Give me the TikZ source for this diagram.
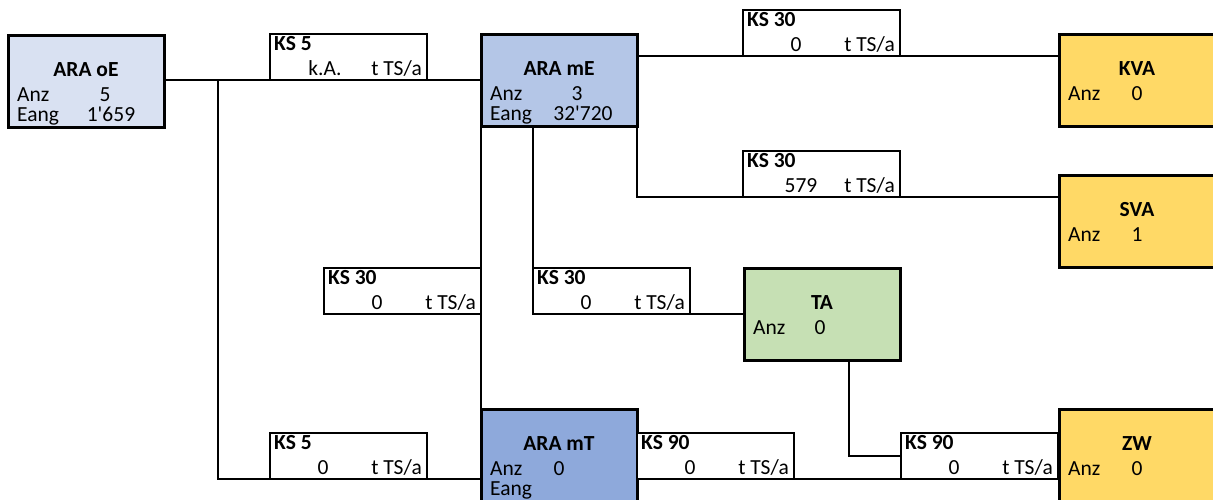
\documentclass[tikz,border=0pt]{standalone}
\usepackage{fontspec}
\setmainfont{Carlito}
\definecolor{oEfill}{HTML}{D9E1F2}
\definecolor{mEfill}{HTML}{B4C6E7}
\definecolor{mTfill}{HTML}{8EA9DB}
\definecolor{tafill}{HTML}{C6E0B4}
\definecolor{vafill}{HTML}{FFD966}

\begin{document}
\fontsize{21.5}{24}\selectfont
\begin{tikzpicture}[
        x=1pt, y=-1pt,
        anlage/.style={rectangle, draw, line width=3pt, minimum width=156pt, minimum height=92pt, inner sep=0pt, outer sep=0pt, anchor=north west},
        ksbox/.style={rectangle, draw, fill=white, line width=2pt, minimum width=157pt, minimum height=46pt, inner sep=0pt, outer sep=0pt, anchor=north west},
        ttl/.style={anchor=base, font=\bfseries, inner sep=0pt},
        lbl/.style={anchor=base west, inner sep=0pt},
        val/.style={anchor=base, inner sep=0pt},
        kst/.style={anchor=base west, font=\bfseries, inner sep=0pt},
        ksu/.style={anchor=base east, inner sep=0pt},
        link/.style={line width=2pt}
        ]
        \useasboundingbox (0,0) rectangle (1213,499);
        \clip (0,0) rectangle (1213,499);
        % Anlagen
        \node[anlage, fill=oEfill] (oE)  at (8,35)    {};
        \node[anlage, fill=mEfill] (mE)  at (481,34)  {};
        \node[anlage, fill=mTfill] (mT)  at (481,409) {};
        \node[anlage, fill=tafill] (TA)  at (744,268) {};
        \node[anlage, fill=vafill] (KVA) at (1059,34) {};
        \node[anlage, fill=vafill] (SVA) at (1059,175) {};
        \node[anlage, fill=vafill] (ZW)  at (1059,409) {};
        \node[ttl] at ([yshift=-41pt]oE.north) {ARA oE};
        \node[lbl] at ([xshift=9pt,yshift=-66pt]oE.north west) {Anz};
        \node[val] at ([xshift=19pt,yshift=-66pt]oE.north) {5};
        \node[lbl] at ([xshift=9pt,yshift=-86pt]oE.north west) {Eang};
        \node[val] at ([xshift=25pt,yshift=-86pt]oE.north) {1\textquotesingle659};
        \node[ttl] at ([yshift=-41pt]mE.north) {ARA mE};
        \node[lbl] at ([xshift=9pt,yshift=-66pt]mE.north west) {Anz};
        \node[val] at ([xshift=18pt,yshift=-66pt]mE.north) {3};
        \node[lbl] at ([xshift=9pt,yshift=-86pt]mE.north west) {Eang};
        \node[val] at ([xshift=24pt,yshift=-86pt]mE.north) {32\textquotesingle720};
        \node[ttl] at ([yshift=-41pt]mT.north) {ARA mT};
        \node[lbl] at ([xshift=9pt,yshift=-66pt]mT.north west) {Anz};
        \node[val] at ([yshift=-66pt]mT.north) {0};
        \node[lbl] at ([xshift=9pt,yshift=-86pt]mT.north west) {Eang};
        \node[ttl] at ([yshift=-41pt]TA.north) {TA};
        \node[lbl] at ([xshift=9pt,yshift=-66pt]TA.north west) {Anz};
        \node[val] at ([xshift=-2pt,yshift=-66pt]TA.north) {0};
        \node[ttl] at ([yshift=-41pt]KVA.north) {KVA};
        \node[lbl] at ([xshift=9pt,yshift=-66pt]KVA.north west) {Anz};
        \node[val] at ([yshift=-66pt]KVA.north) {0};
        \node[ttl] at ([yshift=-41pt]SVA.north) {SVA};
        \node[lbl] at ([xshift=9pt,yshift=-66pt]SVA.north west) {Anz};
        \node[val] at ([yshift=-66pt]SVA.north) {1};
        \node[ttl] at ([yshift=-41pt]ZW.north) {ZW};
        \node[lbl] at ([xshift=9pt,yshift=-66pt]ZW.north west) {Anz};
        \node[val] at ([yshift=-66pt]ZW.north) {0};
        % Klärschlamm-Mengen
        \node[ksbox] (ks1) at (270,34)  {};
        \node[ksbox] (ks2) at (743,10)  {};
        \node[ksbox] (ks3) at (743,151) {};
        \node[ksbox] (ks4) at (324,268) {};
        \node[ksbox] (ks5) at (533,268) {};
        \node[ksbox] (ks6) at (270,433) {};
        \node[ksbox] (ks7) at (637,433) {};
        \node[ksbox] (ks8) at (901,433) {};
        \node[kst] at ([xshift=4pt,yshift=-16pt]ks1.north west) {KS 5};
        \node[val] at ([xshift=55pt,yshift=-41pt]ks1.north west) {k.A.};
        \node[ksu] at ([xshift=-5pt,yshift=-41pt]ks1.north east) {t TS/a};
        \node[kst] at ([xshift=4pt,yshift=-16pt]ks2.north west) {KS 30};
        \node[val] at ([xshift=53pt,yshift=-41pt]ks2.north west) {0};
        \node[ksu] at ([xshift=-5pt,yshift=-41pt]ks2.north east) {t TS/a};
        \node[kst] at ([xshift=4pt,yshift=-16pt]ks3.north west) {KS 30};
        \node[val] at ([xshift=58pt,yshift=-41pt]ks3.north west) {579};
        \node[ksu] at ([xshift=-5pt,yshift=-41pt]ks3.north east) {t TS/a};
        \node[kst] at ([xshift=4pt,yshift=-16pt]ks4.north west) {KS 30};
        \node[val] at ([xshift=53pt,yshift=-41pt]ks4.north west) {0};
        \node[ksu] at ([xshift=-5pt,yshift=-41pt]ks4.north east) {t TS/a};
        \node[kst] at ([xshift=4pt,yshift=-16pt]ks5.north west) {KS 30};
        \node[val] at ([xshift=53pt,yshift=-41pt]ks5.north west) {0};
        \node[ksu] at ([xshift=-5pt,yshift=-41pt]ks5.north east) {t TS/a};
        \node[kst] at ([xshift=4pt,yshift=-16pt]ks6.north west) {KS 5};
        \node[val] at ([xshift=53pt,yshift=-41pt]ks6.north west) {0};
        \node[ksu] at ([xshift=-5pt,yshift=-41pt]ks6.north east) {t TS/a};
        \node[kst] at ([xshift=4pt,yshift=-16pt]ks7.north west) {KS 90};
        \node[val] at ([xshift=53pt,yshift=-41pt]ks7.north west) {0};
        \node[ksu] at ([xshift=-5pt,yshift=-41pt]ks7.north east) {t TS/a};
        \node[kst] at ([xshift=4pt,yshift=-16pt]ks8.north west) {KS 90};
        \node[val] at ([xshift=53pt,yshift=-41pt]ks8.north west) {0};
        \node[ksu] at ([xshift=-5pt,yshift=-41pt]ks8.north east) {t TS/a};
        % Verbindungen
        \coordinate (split) at (218,80);
        \draw[link] (oE.east |- ks1.south) -- (mE.west |- ks1.south);
        \draw[link] (split) |- (mT.west |- ks6.south);
        \draw[link] (mE.east |- ks2.south) -- (KVA.west |- ks2.south);
        \draw[link] (mE.south east) |- (SVA.west |- ks3.south);
        \draw[link] (mE.south west) -- (mT.north west);
        \draw[link] (mE.south -| ks5.west) |- (TA.west |- ks5.south);
        \draw[link] ([xshift=27pt]TA.south) |- (ks8.west);
        \draw[link] (mT.east |- ks7.south) -- (ZW.west |- ks7.south);
    \end{tikzpicture}
\end{document}
